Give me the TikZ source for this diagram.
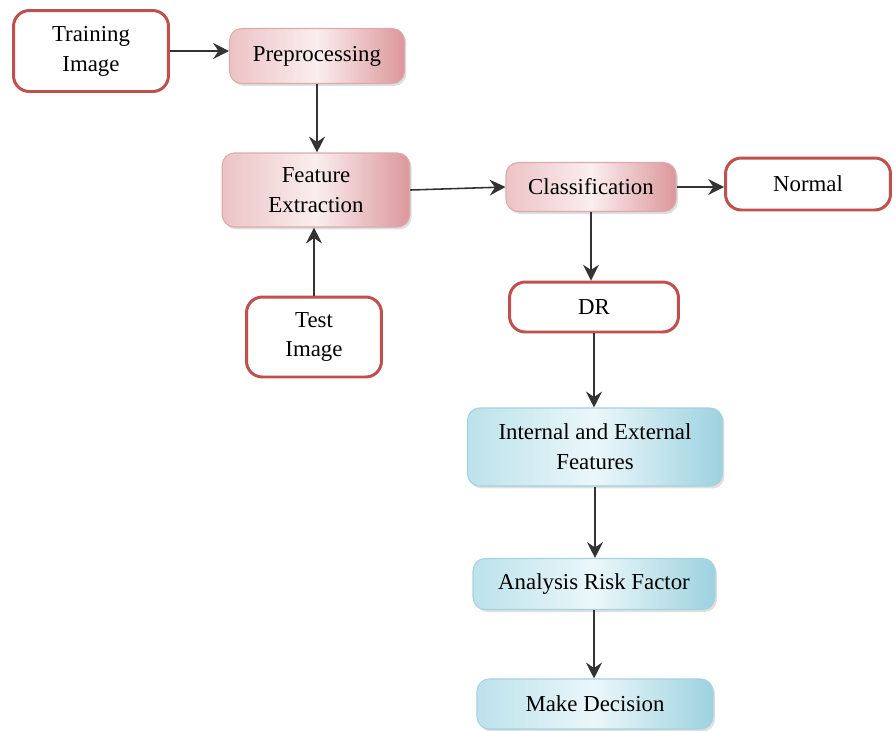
\documentclass[tikz,border=0pt]{standalone}
\usepackage{fontspec}
\setmainfont{Liberation Serif}
\usetikzlibrary{arrows.meta,shadows}
\definecolor{boxred}{HTML}{C0504D}
\definecolor{pinkedge}{HTML}{DDAAAC}
\definecolor{pinkmid}{HTML}{EDC3C5}
\definecolor{pinklight}{HTML}{FAEEEE}
\definecolor{pinkdark}{HTML}{DC979B}
\definecolor{blueedge}{HTML}{A3D3DF}
\definecolor{bluemid}{HTML}{BCE2EB}
\definecolor{bluelight}{HTML}{EBF7FA}
\definecolor{bluedark}{HTML}{9DD2DF}
\tikzset{
  box/.style={align=center, inner sep=0pt, font=\fontsize{13}{17}\selectfont},
  redbox/.style={box, draw=boxred, line width=1.7pt, rounded corners=9pt, fill=white},
  pinkbox/.style={box, draw=pinkedge, line width=.6pt, rounded corners=7pt,
    left color=pinkmid, right color=pinkdark, middle color=pinklight,
    drop shadow={opacity=.25, shadow xshift=.04cm, shadow yshift=-.05cm}},
  bluebox/.style={box, draw=blueedge, line width=.6pt, rounded corners=7pt,
    left color=bluemid, right color=bluedark, middle color=bluelight,
    drop shadow={opacity=.25, shadow xshift=.04cm, shadow yshift=-.05cm}},
  link/.style={->, line width=.9pt, black!80}
}
\begin{document}
\begin{tikzpicture}[>={Stealth[length=9pt,width=9pt,inset=3pt]}, x=0.02cm, y=-0.02cm]
\useasboundingbox (0,0) rectangle (894,731);

% left column
\node[redbox, minimum width=3.1cm, minimum height=1.62cm] (tr) at (91,51) {Training\\Image};
\node[pinkbox, minimum width=3.5cm, minimum height=1.1cm] (pre) at (317,56) {Preprocessing};
\node[pinkbox, minimum width=3.75cm, minimum height=1.48cm] (fe) at (316,190) {Feature\\Extraction};
\node[redbox, minimum width=2.7cm, minimum height=1.6cm] (te) at (314,337) {Test\\Image};

% right column
\node[pinkbox, minimum width=3.4cm, minimum height=.98cm] (cl) at (591,187) {Classification};
\node[redbox, minimum width=3.3cm, minimum height=1.04cm] (no) at (808,184) {Normal};
\node[redbox, minimum width=3.38cm, minimum height=1.0cm] (dr) at (594,307) {DR};
\node[bluebox, minimum width=5.1cm, minimum height=1.56cm] (ie) at (595,447) {Internal and External\\Features};
\node[bluebox, minimum width=4.84cm, minimum height=1.02cm] (ar) at (594,584) {Analysis Risk Factor};
\node[bluebox, minimum width=4.72cm, minimum height=1.0cm] (md) at (595,704) {Make Decision};

\draw[link] (tr.east) -- (tr.east -| pre.west);
\draw[link] (pre) -- (pre |- fe.north);
\draw[link] (te) -- (te |- fe.south);
\draw[link] (fe.east) -- (cl.west);
\draw[link] (cl.east) -- (cl.east -| no.west);
\draw[link] (cl) -- (cl |- dr.north);
\draw[link] (dr) -- (dr |- ie.north);
\draw[link] (ie) -- (ie |- ar.north);
\draw[link] (ar) -- (ar |- md.north);
\end{tikzpicture}
\end{document}
